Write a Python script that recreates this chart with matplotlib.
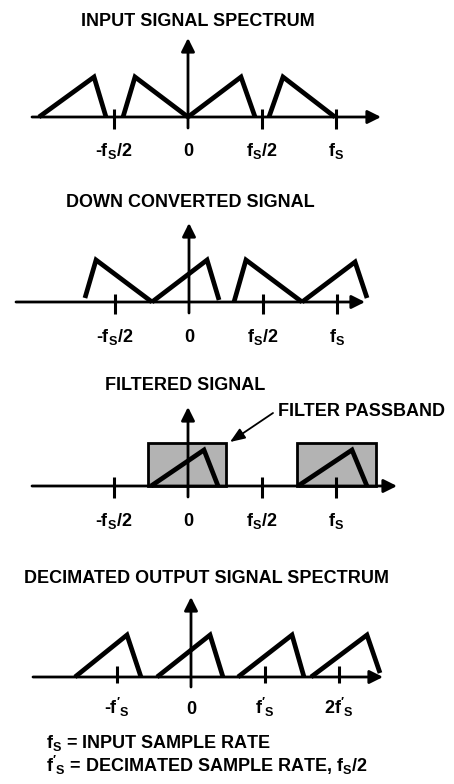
import matplotlib
matplotlib.use("Agg")
import matplotlib.pyplot as plt
from matplotlib.patches import Rectangle

plt.rcParams['font.family'] = ['Liberation Sans', 'DejaVu Sans']
plt.rcParams['font.weight'] = 'bold'
plt.rcParams['mathtext.default'] = 'regular'

# ---------------- data (frequency in units of fs, or f's for the last panel) ----
titles = ["INPUT SIGNAL SPECTRUM", "DOWN CONVERTED SIGNAL",
          "FILTERED SIGNAL", "DECIMATED OUTPUT SIGNAL SPECTRUM"]

input_x = [[-1.007, -0.635, -0.554], [-0.439, -0.358, 0.0],
           [0.0, 0.358, 0.453], [0.547, 0.642, 0.993]]
input_y = [[0, 1.0, 0], [0, 1.0, 0], [0, 1.0, 0], [0, 1.0, 0]]

down_x = [[-0.703, -0.628, -0.250], [-0.250, 0.122, 0.203],
          [0.304, 0.385, 0.764], [0.764, 1.122, 1.203]]
down_y = [[0.1, 1.05, 0], [0, 1.05, 0.05], [0, 1.05, 0], [0, 1.0, 0.1]]

filt_x = [[-0.25, 0.108, 0.203], [0.743, 1.108, 1.209]]
filt_y = [[0, 0.9, 0], [0, 0.9, 0]]
pass_lo = [-0.27, 0.736]
pass_hi = [0.257, 1.27]
pass_h = 1.075

dec_x = [[-1.568, -0.865, -0.676], [-0.459, 0.257, 0.432],
         [0.635, 1.365, 1.527], [1.622, 2.378, 2.554]]
dec_y = [[0, 1.05, 0], [0, 1.05, 0], [0, 1.05, 0], [0, 1.05, 0.1]]

ticks_fs = [-0.5, 0.0, 0.5, 1.0]
labels_fs = ['-$f_S$/2', '0', '$f_S$/2', '$f_S$']
ticks_dec = [-1, 0, 1, 2]
labels_dec = ["-$f'_S$", '0', "$f'_S$", "2$f'_S$"]

notes = ["$f_S$ = INPUT SAMPLE RATE", "$f'_S$ = DECIMATED SAMPLE RATE, $f_S$/2"]
passband_label = "FILTER PASSBAND"

# ---------------- layout (pixels) ----------------
W, H = 454, 784
FS = 13
fig = plt.figure(figsize=(W / 100, H / 100), dpi=100)

# x0, xunit, y0 (axis), yunit, axis start/tip px, vaxis bottom/tip px, tick up/down px, label offset
geoms = [
    dict(x0=188, xu=148, y0=117, yu=40, ax0=32, ax1=381, v0=128, v1=38, tu=8, td=12, lo=39, ty=26, tx=198),
    dict(x0=189, xu=148, y0=302, yu=40, ax0=16, ax1=365, v0=313, v1=223, tu=8, td=12, lo=40, ty=207, tx=190),
    dict(x0=188, xu=148, y0=486, yu=40, ax0=32, ax1=397, v0=497, v1=407, tu=9, td=12, lo=40, ty=390, tx=185),
    dict(x0=191, xu=74, y0=677, yu=40, ax0=33, ax1=383, v0=687, v1=597, tu=11, td=6, lo=37, ty=583, tx=206),
]


def make_ax(g):
    ax = fig.add_axes([0, 0, 1, 1])
    ax.set_xlim(-g['x0'] / g['xu'], (W - g['x0']) / g['xu'])
    ax.set_ylim((g['y0'] - H) / g['yu'], g['y0'] / g['yu'])
    ax.axis('off')
    ax.patch.set_alpha(0)
    return ax


def px_x(g, px):
    return (px - g['x0']) / g['xu']


def px_y(g, py):
    return (g['y0'] - py) / g['yu']


def draw_axes(ax, g, ticks, labels):
    arrow = dict(arrowstyle='-|>,head_length=0.8,head_width=0.4', lw=2.0,
                 color='k', shrinkA=0, shrinkB=0, mutation_scale=10)
    ax.annotate('', xy=(px_x(g, g['ax1']), 0), xytext=(px_x(g, g['ax0']), 0),
                arrowprops=arrow, zorder=3)
    ax.annotate('', xy=(0, px_y(g, g['v1'])), xytext=(0, px_y(g, g['v0'])),
                arrowprops=arrow, zorder=3)
    for t, lab in zip(ticks, labels):
        if t != 0:
            ax.plot([t, t], [g['tu'] / g['yu'], -g['td'] / g['yu']],
                    color='k', lw=2.2, solid_capstyle='butt', zorder=3)
        ax.text(t, -g['lo'] / g['yu'], lab, ha='center', va='baseline',
                fontsize=FS, fontweight='bold')


def draw_tris(ax, xs, ys):
    for x, y in zip(xs, ys):
        ax.plot(x, y, color='k', lw=3.4, solid_joinstyle='miter',
                solid_capstyle='butt', zorder=4)


axs = [make_ax(g) for g in geoms]

draw_axes(axs[0], geoms[0], ticks_fs, labels_fs)
draw_tris(axs[0], input_x, input_y)

draw_axes(axs[1], geoms[1], ticks_fs, labels_fs)
draw_tris(axs[1], down_x, down_y)

for lo, hi in zip(pass_lo, pass_hi):
    axs[2].add_patch(Rectangle((lo, 0), hi - lo, pass_h, facecolor='#b3b3b3',
                               edgecolor='k', lw=2.0, zorder=1))
draw_axes(axs[2], geoms[2], ticks_fs, labels_fs)
draw_tris(axs[2], filt_x, filt_y)
g3 = geoms[2]
axs[2].annotate('', xy=(px_x(g3, 230), px_y(g3, 442)), xytext=(px_x(g3, 273), px_y(g3, 413)),
                arrowprops=dict(arrowstyle='-|>,head_length=0.9,head_width=0.35', lw=1.3,
                                color='k', shrinkA=0, shrinkB=0, mutation_scale=10), zorder=5)
fig.text(278 / W, 1 - 416 / H, passband_label, ha='left', va='baseline',
         fontsize=FS, fontweight='bold')

draw_axes(axs[3], geoms[3], ticks_dec, labels_dec)
draw_tris(axs[3], dec_x, dec_y)

for g, t in zip(geoms, titles):
    fig.text(g['tx'] / W, 1 - g['ty'] / H, t, ha='center', va='baseline',
             fontsize=FS, fontweight='bold')

fig.text(46 / W, 1 - 748 / H, notes[0], ha='left', va='baseline', fontsize=FS, fontweight='bold')
fig.text(46 / W, 1 - 772 / H, notes[1], ha='left', va='baseline', fontsize=FS, fontweight='bold')

fig.savefig('out.png', dpi=100, facecolor='white')
